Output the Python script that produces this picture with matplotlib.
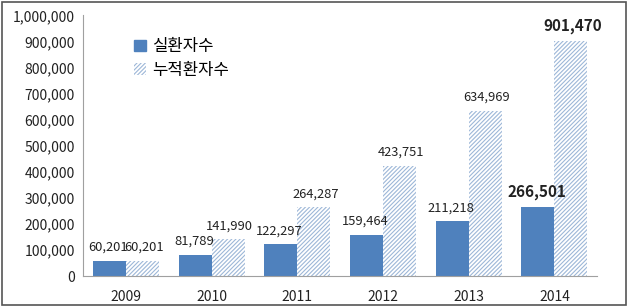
import numpy as np
import matplotlib
matplotlib.use('Agg')
from matplotlib import pyplot as plt
from matplotlib.patches import Patch, Rectangle

plt.rcParams['font.family'] = ['Noto Sans CJK KR', 'DejaVu Sans']
plt.rcParams['hatch.linewidth'] = 0.8

years = ['2009', '2010', '2011', '2012', '2013', '2014']
patients = [60201, 81789, 122297, 159464, 211218, 266501]
cumulative = [60201, 141990, 264287, 423751, 634969, 901470]
series_names = ['실환자수', '누적환자수']

blue = '#4F81BD'
hatch_col = '#9DB7D8'

fig = plt.figure(figsize=(6.3, 3.07), dpi=100)
ax = fig.add_axes([0.132, 0.10, 0.816, 0.85])

x = np.arange(len(years))
w = 0.385
b1 = ax.bar(x - w / 2, patients, w, color=blue, edgecolor=blue, linewidth=0)
b2 = ax.bar(x + w / 2, cumulative, w, color='white', edgecolor=hatch_col,
            hatch='////////', linewidth=0)

last = len(years) - 1
for i in range(len(years)):
    bold = i == last
    fs = 11 if bold else 9.3
    fw = 'bold' if bold else 'normal'
    ax.annotate('{:,}'.format(patients[i]), (x[i] - w / 2, patients[i]),
                xytext=(-1, 5), textcoords='offset points', ha='center',
                va='bottom', fontsize=fs, fontweight=fw, color='#222222')
    ax.annotate('{:,}'.format(cumulative[i]), (x[i] + w / 2, cumulative[i]),
                xytext=(1, 5), textcoords='offset points', ha='center',
                va='bottom', fontsize=fs, fontweight=fw, color='#222222')

ax.set_ylim(0, 1000000)
ax.set_xlim(-0.5, len(years) - 0.5)
ax.set_yticks(np.arange(0, 1000001, 100000))
ax.set_yticklabels(['{:,}'.format(v) for v in range(0, 1000001, 100000)])
ax.set_xticks(x)
ax.set_xticklabels(years)
ax.tick_params(length=0, labelsize=10, colors='#222222')
ax.tick_params(axis='x', pad=10)
ax.tick_params(axis='y', pad=6)
for s in ['top', 'right']:
    ax.spines[s].set_visible(False)
for s in ['left', 'bottom']:
    ax.spines[s].set_color('#A0A0A0')

handles = [Patch(facecolor=blue, edgecolor=blue),
           Patch(facecolor='white', edgecolor=hatch_col, hatch='////////', linewidth=0)]
ax.legend(handles, series_names, loc='upper left', bbox_to_anchor=(0.07, 0.97),
          frameon=False, fontsize=12, handlelength=0.7, handleheight=0.7,
          handletextpad=0.4, labelspacing=0.4)

fig.patches.append(Rectangle((0.003, 0.008), 0.99, 0.985, transform=fig.transFigure,
                             fill=False, edgecolor='#555555', linewidth=1.2))

fig.savefig('out.png', dpi=100)
